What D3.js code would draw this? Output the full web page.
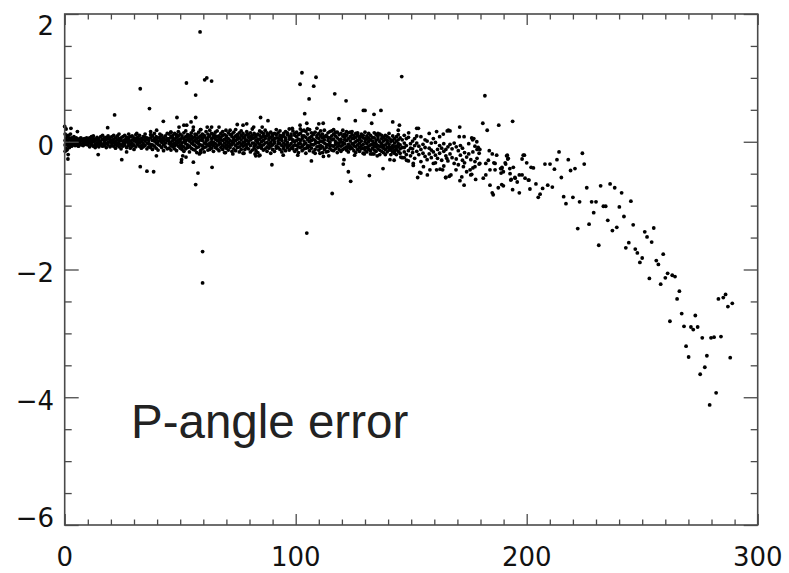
<!DOCTYPE html>
<html>
<head>
<meta charset="utf-8">
<script src="https://cdn.jsdelivr.net/npm/d3@7/dist/d3.min.js"></script>
<style>
  html, body { margin: 0; padding: 0; background: #fff; }
  svg { display: block; }
</style>
</head>
<body>
<svg id="chart" width="789" height="573"></svg>
<script>
// ---------------- data ----------------
const xDomain = [0, 300];
const yDomain = [-6, 2];
const xMajorTicks = [0, 100, 200, 300];
const xTickLabels = ["0", "100", "200", "300"];
const yMajorTicks = [-6, -4, -2, 0, 2];
const yTickLabels = ["\u22126", "\u22124", "\u22122", "0", "2"];
const annotation = "P-angle error";

// dense band, rows of [x, [y values]]
const band0to10 = [
  [0.2,[.12,-.05,.02,-.15]],[0.6,[.05,-.10,-.02,.20]],[1.0,[.08,-.03,-.12]],[1.5,[.02,-.06,.10,-.20]],
  [2.0,[-.02,.06,-.09]],[2.5,[.04,-.04,.12]],[3.0,[.01,-.07,.06]],[3.5,[-.03,.05,.00]],[4.0,[.03,-.05,.08]],
  [4.5,[-.01,.04,-.06]],[5.0,[.02,-.04,.06]],[5.5,[.00,-.06,.04]],[6.0,[.03,-.03,-.07]],[6.5,[.05,-.02,.01]],
  [7.0,[-.04,.02,.06]],[7.5,[.01,-.05,.04]],[8.0,[.03,-.02,-.06]],[8.5,[-.01,.05,.02]],[9.0,[.02,-.04,.00]],
  [9.5,[-.03,.03,.06]],[10.0,[.01,-.05,.03]]
];
const band10to45 = [
  [10.8,[.06,-.02,-.08,.02]],[11.6,[-.05,.03,.08,-.01]],[12.4,[.00,-.07,.05,.09]],[13.2,[.04,-.04,-.09,.01]],
  [14.0,[-.02,.07,-.06,.03]],[14.8,[.05,-.03,.00,-.08]],[15.6,[.08,.01,-.05,-.02]],[16.4,[-.04,.04,.10,-.07]],
  [17.2,[.02,-.06,.06,-.01]],[18.0,[.07,-.03,.03,-.09]],[18.8,[-.01,.05,-.05,.09]],[19.6,[.03,-.08,.00,.06]],
  [20.4,[-.06,.02,.08,-.03]],[21.2,[.04,-.01,-.07,.10]],[22.0,[.00,.06,-.04,-.10]],[22.8,[.09,-.02,.03,-.06]],
  [23.6,[-.03,.05,-.08,.01]],[24.4,[.06,-.05,.02,-.11]],[25.2,[.01,.08,-.03,-.07]],[26.0,[-.05,.03,.10,-.01]],
  [26.8,[.04,-.09,.00,.07]],[27.6,[-.02,.06,-.06,.02]],[28.4,[.08,-.04,.01,-.10]],[29.2,[-.07,.03,.09,-.02]],
  [30.0,[.02,-.05,.06,-.12]],[30.8,[.05,.00,-.08,.11]],[31.6,[-.03,.07,-.04,.02]],[32.4,[.10,-.01,-.07,.04]],
  [33.2,[-.06,.05,.00,-.10]],[34.0,[.03,-.03,.08,-.08]],[34.8,[.07,-.06,.01,.12]],[35.6,[-.02,.04,-.11,.06]],
  [36.4,[.05,-.08,.02,-.03]],[37.2,[.11,-.04,.06,-.09]],[38.0,[-.05,.02,.09,-.12]],[38.8,[.01,-.07,.05,.13]],
  [39.6,[.08,-.02,-.10,.03]],[40.4,[-.04,.06,.00,-.13]],[41.2,[.12,.02,-.06,.07]],[42.0,[-.01,-.09,.04,.10]],
  [42.8,[.06,-.05,.01,-.14]],[43.6,[-.08,.09,.03,-.02]],[44.4,[.02,-.11,.13,.05]]
];
const band45to100 = [
  [45.2,[.05,-.03,.12,-.10,.00]],[46.0,[-.06,.08,-.01,.15,-.13]],[46.8,[.02,-.08,.10,-.04,.06]],
  [47.6,[.13,-.02,-.11,.04,-.06]],[48.4,[-.04,.07,.01,-.14,.11]],[49.2,[.09,-.07,.03,-.01,.16]],
  [50.0,[-.10,.04,.12,-.05,.01]],[50.8,[.06,-.12,-.02,.09,-.07]],[51.6,[.00,.14,-.08,.05,-.15]],
  [52.4,[-.03,.08,.17,-.11,.02]],[53.2,[.11,-.05,.03,-.09,.07]],[54.0,[-.07,.01,.10,-.16,.05]],
  [54.8,[.04,-.10,.14,-.02,.09]],[55.6,[-.12,.06,-.04,.18,.00]],[56.4,[.08,-.06,.02,-.13,.12]],
  [57.2,[-.01,.11,-.09,.05,-.17]],[58.0,[.15,-.03,.07,-.08,.01]],[58.8,[-.05,.09,-.14,.03,.19]],
  [59.6,[.02,-.11,.12,-.06,.06]],[60.4,[.10,-.02,-.16,.08,-.09]],[61.2,[-.08,.05,.16,-.03,.01]],
  [62.0,[.07,-.13,.03,.12,-.05]],[62.8,[-.02,.09,-.07,.18,-.12]],[63.6,[.13,-.04,.05,-.10,.00]],
  [64.4,[-.06,.11,-.01,.07,-.15]],[65.2,[.04,-.09,.15,-.03,.09]],[66.0,[-.11,.02,.08,-.06,.17]],
  [66.8,[.09,-.14,.00,.05,-.04]],[67.6,[-.03,.07,.13,-.09,.03]],[68.4,[.16,-.06,.02,-.12,.10]],
  [69.2,[-.08,.04,-.02,.11,-.17]],[70.0,[.06,-.10,.09,.01,-.05]],[70.8,[-.01,.14,-.07,.05,-.13]],
  [71.6,[.11,-.04,.18,-.09,.02]],[72.4,[-.05,.08,.00,-.15,.12]],[73.2,[.03,-.11,.06,.15,-.02]],
  [74.0,[.09,-.06,-.14,.02,.19]],[74.8,[-.09,.04,.11,-.03,.07]],[75.6,[.14,-.01,-.08,.06,-.16]],
  [76.4,[-.04,.10,.03,-.12,.17]],[77.2,[.07,-.07,.13,-.01,-.18]],[78.0,[-.12,.05,.00,.09,-.05]],
  [78.8,[.02,-.09,.16,-.04,.11]],[79.6,[.12,-.03,-.11,.07,.01]],[80.4,[-.06,.08,.03,-.16,.14]],
  [81.2,[.05,-.13,.10,-.02,.20]],[82.0,[-.02,.06,-.07,.13,-.10]],[82.8,[.10,-.05,.02,-.14,.08]],
  [83.6,[-.09,.12,-.01,.04,-.17]],[84.4,[.04,-.08,.17,-.04,.10]],[85.2,[.15,.00,-.10,.07,-.06]],
  [86.0,[-.05,.09,.02,-.13,.13]],[86.8,[.08,-.11,.05,-.02,.18]],[87.6,[-.01,.14,-.08,.10,-.15]],
  [88.4,[.11,-.04,.03,-.10,.06]],[89.2,[-.07,.07,.15,-.01,-.18]],[90.0,[.03,-.12,.09,-.05,.12]],
  [90.8,[.13,-.02,-.15,.05,.00]],[91.6,[-.10,.06,.11,-.07,.19]],[92.4,[.06,-.09,.01,.14,-.03]],
  [93.2,[-.03,.10,-.12,.04,.17]],[94.0,[.09,-.06,.07,-.16,.02]],[94.8,[-.08,.13,-.02,.09,-.11]],
  [95.6,[.02,-.14,.16,-.05,.06]],[96.4,[.14,-.01,-.09,.11,-.06]],[97.2,[-.06,.08,.04,-.13,.20]],
  [98.0,[.05,-.10,.12,-.03,.09]],[98.8,[-.11,.03,.17,-.07,.01]],[99.6,[.10,-.05,.00,.13,-.15]]
];
const band100to145 = [
  [100.4,[.08,-.06,.15,-.12,.02]],[101.2,[-.03,.11,-.17,.04,-.08]],[102.0,[.13,-.09,.02,.20,-.03]],
  [102.8,[-.07,.05,.17,-.14,.09]],[103.6,[.01,-.11,.09,-.04,.18]],[104.4,[.16,-.02,-.18,.07,-.10]],
  [105.2,[-.09,.12,.03,-.06,.20]],[106.0,[.06,-.14,.19,.00,-.07]],[106.8,[-.04,.08,-.10,.14,.02]],
  [107.6,[.11,-.05,.04,-.16,.13]],[108.4,[-.12,.02,.15,-.03,-.18]],[109.2,[.07,-.08,.10,.21,-.01]],
  [110.0,[-.01,.13,-.13,.05,-.07]],[110.8,[.17,-.06,.01,-.10,.09]],[111.6,[-.08,.06,.12,-.17,.00]],
  [112.4,[.03,-.12,.18,-.02,.08]],[113.2,[.10,-.04,-.09,.08,-.16]],[114.0,[-.05,.14,.02,-.15,.07]],
  [114.8,[.06,-.10,.16,-.01,-.06]],[115.6,[-.13,.03,.09,-.06,.17]],[116.4,[.12,-.07,-.14,.19,.04]],
  [117.2,[.00,.09,-.04,-.11,.15]],[118.0,[.15,-.02,.06,-.17,-.08]],[118.8,[-.06,.11,-.12,.03,-.02]],
  [119.6,[.04,-.15,.13,-.07,.00]],[120.4,[.09,-.05,.18,-.01,-.12]],[121.2,[-.10,.07,-.03,.12,.03]],
  [122.0,[.02,-.13,.10,-.08,.16]],[122.8,[.14,-.04,-.16,.05,-.09]],[123.6,[-.07,.08,.01,-.11,.15]],
  [124.4,[.11,-.10,.16,-.03,.05]],[125.2,[-.02,.05,-.14,.09,-.06]],[126.0,[.07,-.08,.13,-.17,.00]],
  [126.8,[-.12,.02,-.05,.10,.14]],[127.6,[.04,-.15,.08,-.02,-.09]],[128.4,[.12,-.06,-.11,.01,.08]],
  [129.2,[-.04,.10,-.18,.06,-.10]],[130.0,[.00,-.09,.15,-.13,.05]],[130.8,[.09,-.03,-.16,.04,-.09]],
  [131.6,[-.07,.06,-.12,.13,.00]],[132.4,[.03,-.14,.10,-.05,-.19]],[133.2,[-.10,.01,.07,-.19,-.04]],
  [134.0,[.06,-.07,-.02,.14,-.13]],[134.8,[-.03,.11,-.15,.02,-.08]],[135.6,[.08,-.11,.04,-.06,.13]],
  [136.4,[-.13,.00,.12,-.20,-.07]],[137.2,[.05,-.08,-.03,.10,-.15]],[138.0,[-.06,.07,-.17,.01,-.10]],
  [138.8,[.10,-.12,-.05,.04,-.20]],[139.6,[-.01,-.16,.08,-.09,.02]],[140.4,[.06,-.04,-.13,.13,-.09]],
  [141.2,[-.09,.03,-.20,.00,-.13]],[142.0,[.02,-.10,.09,-.06,-.16]],[142.8,[-.14,.05,-.02,-.18,-.08]],
  [143.6,[.08,-.07,.01,-.12,-.20]],[144.4,[-.03,-.15,.11,-.08,.03]]
];
const band145to180 = [
  [145.2,[-.05,-.18,.06,-.11]],[146.1,[.03,-.25,-.09]],[147.0,[-.09,.10,-.02,-.16]],[147.9,[-.20,-.06,.05]],
  [148.8,[.07,-.14,-.30]],[149.7,[-.03,-.22,-.10]],[150.6,[-.11,.01,-.17]],[151.5,[.05,-.26,-.06]],
  [152.4,[-.15,-.02,.09]],[153.3,[-.07,-.20]],[154.2,[.08,-.12,-.31]],[155.1,[-.04,-.18]],
  [156.0,[-.23,-.09,.03]],[156.9,[.01,-.28]],[157.8,[-.10,-.19]],[158.7,[-.02,-.25,-.13]],
  [159.6,[.05,-.16]],[160.5,[-.21,-.01,-.33]],[161.4,[-.12,-.26]],[162.3,[-.06,-.18,.08]],
  [163.2,[-.29,-.10]],[164.1,[-.15,-.03,-.38]],[165.0,[-.22,-.12]],[165.9,[-.08,-.30]],
  [166.8,[-.19,-.04]],[167.7,[-.11,-.25]],[168.6,[-.02,-.34]],[169.5,[-.27,-.08]],
  [170.4,[-.14,-.36]],[171.3,[-.21,-.06]],[172.2,[-.10,-.29]],[173.1,[-.33,-.17]],
  [174.0,[-.24,-.47]],[174.9,[-.03,-.19]],[175.8,[-.28,-.52]],[176.7,[-.16,-.41]],
  [177.6,[-.31,-.07]],[178.5,[-.12,-.26]],[179.4,[-.35,-.18]]
];
// scattered points above the band
const pointsAbove = [
  [0,0.24],[2.7,0.21],[5.5,0.16],[18.6,0.22],[21.6,0.42],[23.5,0.12],[27.7,0.12],[31.2,0.13],[32.7,0.83],
  [36.7,0.52],[37.2,0.16],[39.8,0.18],[42.7,0.32],[45.9,0.15],[48.6,0.38],[49.5,0.23],[51.6,0.26],[52.8,0.26],
  [52.7,0.92],[54.7,0.31],[55.7,0.23],[56.7,0.73],[56.7,0.38],[58.6,1.72],[58.9,0.19],[60.6,0.97],[61.5,1.0],
  [63.6,0.95],[61.7,0.23],[63.6,0.23],[66.8,0.23],[69.8,0.18],[74.7,0.27],[77.2,0.26],[78.8,0.28],[81.8,0.23],
  [84.8,0.38],[85.5,0.23],[88.0,0.33],[98.5,0.21],[101.9,0.26],[101.9,0.90],[102.7,1.08],[103.9,0.44],
  [104.8,0.29],[105.8,0.67],[107.8,0.87],[108.8,1.01],[110.0,0.28],[111.9,0.29],[116.9,0.75],[118.7,0.36],
  [121.8,0.64],[125.8,0.33],[129.3,0.49],[130.0,0.49],[132.9,0.29],[133.9,0.43],[136.9,0.49],[142.0,0.31],
  [144.4,0.18],[144.9,0.26],[145.9,1.02],[148.9,0.14],[152.4,0.21],[153.1,0.21],[157.8,0.13],[161.0,0.16],
  [163.9,0.12],[165.6,0.17],[166.1,0.18],[166.8,0.17],[170.8,0.08],[171.0,0.23],[172.9,0.08],[176.2,0.06],
  [176.6,0.03],[177.1,0.05],[178.4,0.0],[181.0,0.29],[181.9,0.72],[182.9,0.18],[187.9,0.26],[193.9,0.32]
];
// scattered points below the band and the falling tail
const pointsBelow = [
  [1.4,-0.27],[0.9,-0.13],[14.5,-0.2],[24.7,-0.28],[26.8,-0.16],[32.7,-0.39],[35.6,-0.46],[38.5,-0.47],
  [39.7,-0.22],[50.5,-0.32],[50.6,-0.28],[51.1,-0.22],[52.5,-0.24],[55.7,-0.32],[56.7,-0.67],[57.7,-0.49],
  [58.3,-0.19],[58.9,-0.17],[59.7,-1.72],[59.7,-2.21],[63.8,-0.40],[69.6,-0.17],[72.8,-0.19],[77.6,-0.18],
  [82.4,-0.19],[82.7,-0.22],[84.1,-0.22],[84.5,-0.21],[89.7,-0.36],[94.6,-0.21],[100.9,-0.21],[104.8,-1.43],
  [106.8,-0.30],[110.5,-0.18],[112.0,-0.23],[114.3,-0.22],[115.8,-0.81],[120.6,-0.35],[120.9,-0.28],
  [122.8,-0.47],[123.8,-0.62],[125.5,-0.21],[129.7,-0.19],[131.9,-0.53],[133.9,-0.19],[135.3,-0.22],
  [137.8,-0.42],[140.8,-0.28],[142.6,-0.29],[145.5,-0.24],[147.0,-0.25],[148.0,-0.29],[150.9,-0.37],
  [150.9,-0.34],[152.8,-0.56],[153.7,-0.48],[154.2,-0.49],[155.3,-0.39],[157.0,-0.52],[158.1,-0.44],
  [159.6,-0.34],[161.0,-0.44],[162.5,-0.43],[163.6,-0.44],[164.9,-0.56],[165.0,-0.56],[166.5,-0.54],
  [167.2,-0.52],[165.4,-0.26],[169.4,-0.44],[171.1,-0.61],[171.9,-0.55],[172.6,-0.39],[172.9,-0.68],
  [175.5,-0.44],[176.2,-0.51],[177.6,-0.39],[177.9,-0.59],[179.0,-0.09],[179.7,-0.12],[179.7,-0.34],
  [181.2,-0.57],[182.3,-0.52],[182.3,-0.34],[183.4,-0.29],[183.8,-0.14],[184.1,-0.44],[184.1,-0.68],
  [185.1,-0.19],[185.1,-0.80],[185.5,-0.83],[185.8,-0.33],[186.3,-0.34],[186.3,-0.44],[187.0,-0.21],
  [187.7,-0.72],[188.7,-0.42],[188.9,-0.49],[189.2,-0.67],[189.2,-0.42],[189.3,-0.40],[189.9,-0.47],
  [189.9,-0.69],[190.7,-0.33],[190.9,-0.35],[191.3,-0.22],[191.6,-0.21],[192.0,-0.26],[191.8,-0.27],
  [192.7,-0.42],[192.8,-0.50],[193.1,-0.60],[193.3,-0.59],[193.9,-0.75],[194.2,-0.40],[194.9,-0.56],
  [195.0,-0.57],[195.9,-0.63],[196.8,-0.80],[196.8,-0.52],[198.0,-0.52],[198.0,-0.27],[198.5,-0.21],
  [199.0,-0.21],[199.3,-0.57],[200.0,-0.33],[200.7,-0.60],[201.0,-0.60],[201.4,-0.74],[201.9,-0.40],
  [202.9,-0.41],[204.0,-0.66],[205.0,-0.87],[205.8,-0.82],[206.9,-0.73],[207.9,-0.35],[209.1,-0.68],
  [210.1,-0.35],[211.1,-0.71],[212.0,-0.43],[213.1,-0.28],[214.0,-0.16],[215.0,-0.56],[216.0,-0.86],
  [217.0,-0.97],[218.0,-0.28],[219.0,-0.45],[220.0,-0.87],[220.9,-0.42],[222.1,-1.36],[222.9,-0.94],
  [224.1,-0.18],[224.9,-0.35],[226.0,-0.72],[227.0,-1.29],[228.1,-0.94],[229.0,-1.11],[230.0,-0.94],
  [231.2,-1.62],[232.0,-0.69],[233.2,-1.01],[234.2,-1.01],[235.1,-1.23],[236.1,-0.66],[237.1,-1.39],
  [238.1,-0.72],[239.0,-1.34],[240.1,-1.02],[241.1,-0.80],[242.1,-1.17],[242.9,-1.66],[244.2,-1.58],
  [245.1,-0.93],[246.1,-1.30],[247.0,-1.68],[247.9,-1.74],[249.0,-1.89],[250.0,-1.82],[251.1,-1.41],
  [252.1,-1.49],[253.1,-2.14],[254.1,-1.57],[255.0,-1.35],[256.1,-1.86],[257.0,-1.92],[258.0,-2.23],
  [259.1,-1.76],[260.0,-2.13],[261.0,-2.06],[262.0,-2.81],[263.0,-2.09],[264.2,-2.11],[265.1,-2.46],
  [266.1,-2.34],[267.1,-2.69],[268.1,-2.89],[269.0,-3.20],[270.1,-3.37],[271.1,-2.90],[272.1,-2.94],
  [273.0,-2.72],[274.0,-2.90],[275.1,-3.64],[276.0,-3.07],[277.1,-3.53],[278.0,-3.35],[279.2,-4.12],
  [279.8,-3.07],[281.1,-3.06],[282.0,-3.93],[283.0,-2.46],[284.1,-3.05],[285.1,-2.44],[286.1,-2.39],
  [287.1,-2.58],[288.1,-3.38],[289.0,-2.53]
];

// ---------------- build ----------------
const bandRows = [...band0to10, ...band10to45, ...band45to100, ...band100to145, ...band145to180];
const points = [];
bandRows.forEach(([x, ys]) => ys.forEach(y => points.push([x, y])));
pointsAbove.forEach(p => points.push(p));
pointsBelow.forEach(p => points.push(p));

const L = 64.7, R = 757.7, T = 14, B = 525;
const x = d3.scaleLinear().domain(xDomain).range([L, R]);
const y = d3.scaleLinear().domain(yDomain).range([B, T]);

const svg = d3.select("#chart");
const axisColor = "#4a4a4a";
const tickFont = "'DejaVu Sans', Verdana, sans-serif";
const textFont = "'Liberation Sans', Arial, Helvetica, sans-serif";

// points
svg.append("g").selectAll("circle").data(points).join("circle")
  .attr("cx", d => x(d[0])).attr("cy", d => y(d[1]))
  .attr("r", 1.9).attr("fill", "#000");

// minor / major ticks via d3 axes (inward)
const xMinor = d3.range(0, 301, 10).filter(v => v % 100 !== 0);
const yMinor = d3.range(-6, 2.01, 0.5).filter(v => Math.abs(v % 2) > 1e-9);

function styleAxis(g) {
  g.select(".domain").remove();
  g.selectAll("line").attr("stroke", axisColor).attr("stroke-width", 1.3);
  g.selectAll("text").remove();
}
svg.append("g").attr("transform", `translate(0,${B})`)
  .call(d3.axisBottom(x).tickValues(xMinor).tickSize(-5.5)).call(styleAxis);
svg.append("g").attr("transform", `translate(0,${B})`)
  .call(d3.axisBottom(x).tickValues(xMajorTicks).tickSize(-11)).call(styleAxis);
svg.append("g").attr("transform", `translate(0,${T})`)
  .call(d3.axisTop(x).tickValues(xMinor).tickSize(-5.5)).call(styleAxis);
svg.append("g").attr("transform", `translate(0,${T})`)
  .call(d3.axisTop(x).tickValues(xMajorTicks).tickSize(-11)).call(styleAxis);
svg.append("g").attr("transform", `translate(${L},0)`)
  .call(d3.axisLeft(y).tickValues(yMinor).tickSize(-7)).call(styleAxis);
svg.append("g").attr("transform", `translate(${L},0)`)
  .call(d3.axisLeft(y).tickValues(yMajorTicks).tickSize(-14)).call(styleAxis);
svg.append("g").attr("transform", `translate(${R},0)`)
  .call(d3.axisRight(y).tickValues(yMinor).tickSize(-7)).call(styleAxis);
svg.append("g").attr("transform", `translate(${R},0)`)
  .call(d3.axisRight(y).tickValues(yMajorTicks).tickSize(-14)).call(styleAxis);

// frame
svg.append("rect").attr("x", L).attr("y", T).attr("width", R - L).attr("height", B - T)
  .attr("fill", "none").attr("stroke", axisColor).attr("stroke-width", 1.6);

// tick labels
svg.append("g").selectAll("text").data(xMajorTicks).join("text")
  .attr("x", d => x(d)).attr("y", 566)
  .attr("text-anchor", "middle").attr("font-size", 26).attr("font-family", tickFont).attr("fill", "#111")
  .text((d, i) => xTickLabels[i]);
svg.append("g").selectAll("text").data(yMajorTicks).join("text")
  .attr("x", 54).attr("y", d => Math.min(Math.max(y(d) + 3.5, 26), 518))
  .attr("dy", "0.36em")
  .attr("text-anchor", "end").attr("font-size", 26).attr("font-family", tickFont).attr("fill", "#111")
  .text((d, i) => yTickLabels[i]);

// annotation
svg.append("text").attr("x", 131).attr("y", 438)
  .attr("font-size", 47.5).attr("font-family", textFont).attr("fill", "#222").text(annotation);
</script>
</body>
</html>
